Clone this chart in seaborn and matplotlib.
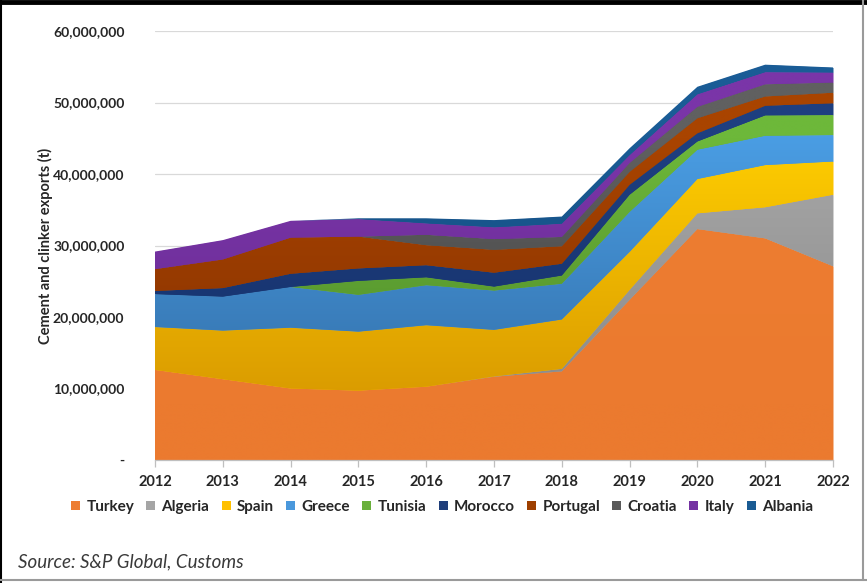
import numpy as np
import pandas as pd
import matplotlib
matplotlib.use("Agg")
import matplotlib.pyplot as plt
import seaborn as sns
from matplotlib.patches import Patch
from matplotlib.lines import Line2D
from matplotlib.colors import to_rgb
from matplotlib.ticker import FuncFormatter, MultipleLocator

# ---------------- data (million tonnes) ----------------
years = [2012, 2013, 2014, 2015, 2016, 2017, 2018, 2019, 2020, 2021, 2022]
countries = ["Turkey", "Algeria", "Spain", "Greece", "Tunisia",
             "Morocco", "Portugal", "Croatia", "Italy", "Albania"]
turkey   = [12.6, 11.3, 10.0, 9.7, 10.25, 11.65, 12.4, 22.4, 32.3, 31.0, 27.1]
algeria  = [0.0, 0.0, 0.0, 0.0, 0.0, 0.05, 0.35, 1.4, 2.2, 4.35, 10.0]
spain    = [6.0, 6.8, 8.5, 8.25, 8.6, 6.5, 6.9, 5.3, 4.8, 5.9, 4.65]
greece   = [4.6, 4.75, 5.7, 5.15, 5.6, 5.5, 5.0, 5.6, 4.1, 4.1, 3.7]
tunisia  = [0.0, 0.0, 0.0, 1.95, 1.1, 0.55, 1.15, 2.4, 1.15, 2.85, 2.8]
morocco  = [0.45, 1.2, 1.85, 1.75, 1.7, 1.95, 1.65, 1.4, 1.15, 1.35, 1.65]
portugal = [3.05, 4.0, 5.05, 4.45, 2.8, 3.2, 2.45, 1.8, 2.1, 1.3, 1.47]
croatia  = [0.0, 0.0, 0.0, 0.0, 1.45, 1.5, 1.3, 1.25, 1.6, 1.7, 1.43]
italy    = [2.45, 2.7, 2.35, 2.45, 1.6, 1.65, 1.85, 1.1, 1.75, 1.7, 1.4]
albania  = [0.0, 0.0, 0.0, 0.1, 0.7, 1.0, 1.0, 0.95, 1.05, 1.04, 0.7]
series = [turkey, algeria, spain, greece, tunisia,
          morocco, portugal, croatia, italy, albania]

df = pd.DataFrame({c: np.array(v) * 1e6 for c, v in zip(countries, series)},
                  index=years)

# ---------------- style ----------------
base_colors = ["#ED7D31", "#A5A5A5", "#FFC000", "#4A98DC", "#6AB03C",
               "#1F3E7A", "#9E3F00", "#5A5A5A", "#7432A2", "#1A5B93"]
top_colors = ["#EE7E32", "#A8A8A8", "#FFCE00", "#4A9DE3", "#6DB83A",
              "#1E3F80", "#A94400", "#606060", "#7A35A8", "#1A5C96"]
bot_colors = ["#EB7A2F", "#8A8A8A", "#D99A00", "#3370AA", "#4F8A2A",
              "#15306A", "#873200", "#444444", "#692C94", "#124878"]

sns.set_theme(style="white")
plt.rcParams['font.family'] = ['Lato', 'DejaVu Sans']
text_color = "#262626"

fig = plt.figure(figsize=(8.67, 5.83), dpi=100)
W, H = 867, 583
ax = fig.add_axes([155 / W, 1 - 460 / H, (833 - 155) / W, (460 - 31) / H])

polys = ax.stackplot(df.index.values, *[df[c].values for c in countries],
                     colors=base_colors, linewidth=0, zorder=2)

# vertical gradient fill clipped to each area
ny = 300
yy = np.linspace(0, 60e6, ny)
t = np.clip((yy - 8e6) / (45e6 - 8e6), 0, 1)
for poly, ct, cb in zip(polys, top_colors, bot_colors):
    a = np.array(to_rgb(cb)); b = np.array(to_rgb(ct))
    grad = a[None, :] * (1 - t[:, None]) + b[None, :] * t[:, None]
    img = np.repeat(grad[:, None, :], 2, axis=1)
    im = ax.imshow(img, extent=[2012, 2022, 0, 60e6], origin="lower",
                   aspect="auto", zorder=3, interpolation="bilinear")
    im.set_clip_path(poly.get_paths()[0], transform=ax.transData)

ax.set_xlim(2012, 2022)
ax.set_ylim(0, 60e6)
ax.yaxis.set_major_locator(MultipleLocator(10e6))
ax.yaxis.set_major_formatter(FuncFormatter(lambda v, p: "-" if v == 0 else f"{int(v):,}"))
ax.set_xticks(years)
ax.set_xticklabels([str(y) for y in years])
ax.grid(axis="y", color="#D9D9D9", linewidth=0.9, zorder=0)
ax.grid(axis="x", visible=False)
for s in ["top", "right", "left"]:
    ax.spines[s].set_visible(False)
ax.spines["bottom"].set_color("#BFBFBF")
ax.spines["bottom"].set_linewidth(0.9)
ax.spines["bottom"].set_zorder(5)
ax.tick_params(axis="x", which="major", length=5, color="#BFBFBF", width=0.9,
               pad=6, labelsize=10.5, labelcolor=text_color, bottom=True)
ax.tick_params(axis="y", length=0, pad=22, labelsize=10, labelcolor=text_color)
for lab in ax.get_xticklabels() + ax.get_yticklabels():
    lab.set_fontweight("bold")
ax.set_ylabel("Cement and clinker exports (t)", fontsize=10.5, fontweight="bold",
              color=text_color, labelpad=10)
ax.yaxis.set_label_coords(-102 / (833 - 155), 0.5)

handles = [Patch(facecolor=c, edgecolor="none") for c in base_colors]
leg = fig.legend(handles, countries, loc="center", ncol=10,
                 bbox_to_anchor=(442 / W, 1 - 507 / H), frameon=False,
                 handlelength=0.6, handleheight=0.6, handletextpad=0.4,
                 columnspacing=0.8, prop={"size": 11, "weight": "bold"})
for tx in leg.get_texts():
    tx.set_color(text_color)

fig.text(18 / W, 1 - 562 / H, "Source: S&P Global, Customs", fontsize=13.5,
         style="italic", color="#3A3A3A", va="center", ha="left")

# outer frame
fig.add_artist(Line2D([0, 1], [1 - 2 / H, 1 - 2 / H], transform=fig.transFigure,
                      color="black", linewidth=3.5))
fig.add_artist(Line2D([1 / W, 1 / W], [0, 1], transform=fig.transFigure,
                      color="black", linewidth=1.5))
fig.add_artist(Line2D([0, 1], [1 - 580 / H, 1 - 580 / H], transform=fig.transFigure,
                      color="#9A9A9A", linewidth=1.5))
fig.add_artist(Line2D([863 / W, 863 / W], [1 - 580 / H, 1], transform=fig.transFigure,
                      color="#9A9A9A", linewidth=1.5))

fig.savefig("out.png", dpi=100)
